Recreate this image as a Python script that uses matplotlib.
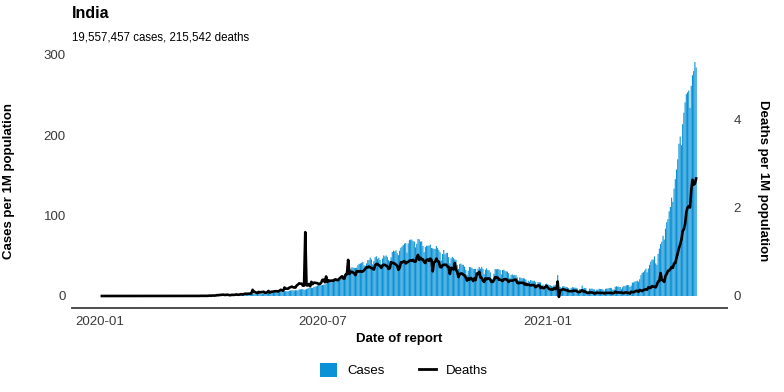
import numpy as np
import pandas as pd
import matplotlib
matplotlib.use("Agg")
import matplotlib.pyplot as plt
import matplotlib.dates as mdates
from matplotlib.patches import Patch
from matplotlib.lines import Line2D

plt.rcParams['font.family'] = ['Liberation Sans', 'DejaVu Sans']

# daily cases per 1M population, by month (first day 2020-01-03)
c_2020_01 = [0, 0, 0, 0, 0, 0, 0, 0, 0, 0, 0, 0, 0, 0, 0, 0, 0, 0, 0, 0, 0, 0, 0, 0, 0, 0, 0, 0, 0]
c_2020_02 = [0, 0, 0, 0, 0, 0, 0, 0, 0, 0, 0, 0, 0, 0, 0, 0, 0, 0, 0, 0, 0, 0, 0, 0, 0, 0, 0, 0, 0]
c_2020_03 = [0, 0, 0, 0.02, 0, 0, 0, 0.01, 0.01, 0.01, 0.01, 0.01, 0.01, 0.02, 0.01, 0.01, 0.02, 0.02, 0.03, 0.05,
             0.06, 0.07, 0.08, 0.07, 0.1, 0.06, 0.11, 0.1, 0.07, 0.16, 0.22]
c_2020_04 = [0.32, 0.35, 0.4, 0.43, 0.36, 0.5, 0.38, 0.56, 0.43, 0.64, 0.8, 0.67, 0.76, 0.86, 0.82, 0.75, 0.87, 0.7,
             1.1, 1.0, 1.05, 1.2, 1.2, 1.3, 1.35, 1.5, 1.25, 1.2, 1.35, 1.3]
c_2020_05 = [1.35, 1.7, 2.0, 2.0, 2.5, 2.8, 2.6, 2.4, 2.5, 2.3, 3.1, 2.7, 2.6, 2.8, 2.7, 2.9, 3.6, 3.7, 3.4, 3.7,
             4.0, 4.2, 4.5, 4.8, 4.9, 4.5, 4.6, 4.9, 5.2, 5.8, 5.8]
c_2020_06 = [6.0, 5.8, 6.1, 6.5, 7.0, 7.1, 7.1, 6.8, 7.2, 7.2, 7.0, 8.1, 8.2, 8.4, 8.5, 7.7, 7.8, 8.7, 9.2, 10.0,
             10.5, 10.3, 10.1, 11.4, 11.5, 12.2, 13.1, 14.0, 13.4, 13.3]
c_2020_07 = [13.7, 13.9, 14.4, 15.8, 17.5, 17.5, 16.7, 16.9, 18.0, 19.5, 19.9, 20.3, 20.7, 20.5, 21.3, 23.4, 25.0,
             25.4, 27.0, 29.0, 27.4, 27.2, 27.9, 33.7, 35.6, 35.4, 35.0, 34.8, 35.5, 38.8, 40.0]
c_2020_08 = [40.5, 41.3, 42.5, 38.1, 37.8, 40.5, 44.6, 44.8, 47.8, 45.6, 39.4, 43.4, 48.2, 49.4, 46.1, 47.6, 44.8,
             39.7, 46.7, 50.5, 49.2, 50.5, 48.4, 44.6, 43.3, 48.2, 54.8, 56.4, 55.5, 56.9, 53.2]
c_2020_09 = [50.9, 56.3, 60.0, 61.8, 63.3, 65.2, 65.9, 54.0, 65.5, 69.6, 70.3, 70.1, 68.3, 67.8, 60.6, 65.0, 71.0,
             70.5, 67.6, 68.1, 62.3, 54.5, 60.9, 62.5, 62.4, 62.8, 64.0, 59.7, 59.3, 58.7]
c_2020_10 = [58.7, 62.1, 59.6, 57.1, 54.5, 44.2, 52.3, 57.3, 51.8, 53.6, 53.8, 48.4, 40.6, 46.7, 48.8, 47.1, 45.4,
             45.0, 38.5, 33.6, 39.7, 40.4, 39.0, 38.8, 36.6, 32.7, 26.3, 31.5, 36.2, 35.8, 35.1]
c_2020_11 = [33.5, 33.7, 33.8, 27.1, 33.8, 36.0, 34.0, 36.3, 33.8, 27.2, 32.6, 34.5, 32.1, 32.2, 29.4, 21.5, 21.3,
             27.7, 33.5, 33.2, 33.6, 33.2, 32.3, 27.0, 32.3, 32.7, 31.4, 30.6, 30.4, 28.3]
c_2020_12 = [22.6, 26.3, 26.8, 25.7, 26.2, 26.0, 23.3, 19.4, 23.1, 22.7, 21.8, 22.3, 21.6, 20.5, 16.3, 19.0, 17.7,
             20.0, 19.1, 18.8, 19.0, 17.1, 14.5, 17.4, 17.1, 16.9, 13.5, 14.3, 12.0, 14.9, 15.4]
c_2021_01 = [14.6, 13.5, 13.4, 12.4, 11.9, 13.5, 13.1, 13.3, 26.0, 6.0, 11.3, 8.8, 11.8, 12.4, 11.5, 11.0, 10.8,
             9.9, 7.3, 9.8, 11.0, 10.6, 10.4, 10.3, 9.5, 6.5, 8.8, 8.6, 13.0, 9.3, 10.1]
c_2021_02 = [9.8, 6.2, 6.5, 9.1, 9.0, 9.3, 8.6, 8.1, 6.4, 8.1, 8.0, 9.0, 8.7, 8.8, 8.1, 6.5, 8.9, 9.3, 9.3, 10.0,
             10.2, 9.7, 7.6, 8.3, 11.5, 12.1, 11.7, 11.4]
c_2021_03 = [11.2, 8.9, 10.9, 12.6, 12.2, 13.3, 13.6, 13.5, 11.2, 13.0, 16.6, 16.9, 18.0, 18.3, 19.1, 17.7, 20.9,
             26.0, 28.8, 29.7, 31.8, 34.0, 29.5, 34.2, 38.8, 42.8, 45.1, 45.4, 49.3, 40.7, 38.8]
c_2021_04 = [52.4, 59.0, 64.6, 67.6, 75.0, 70.3, 83.9, 91.9, 95.6, 105.4, 110.8, 122.4, 117.2, 133.6, 145.5, 157.5,
             170.1, 189.5, 198.4, 187.8, 213.8, 228.1, 241.1, 251.3, 253.4, 255.8, 234.2, 261.6, 274.8, 280.0]
c_2021_05 = [291.3, 284.4]

# daily deaths per 1M population
d_2020_01 = [0, 0, 0, 0, 0, 0, 0, 0, 0, 0, 0, 0, 0, 0, 0, 0, 0, 0, 0, 0, 0, 0, 0, 0, 0, 0, 0, 0, 0]
d_2020_02 = [0, 0, 0, 0, 0, 0, 0, 0, 0, 0, 0, 0, 0, 0, 0, 0, 0, 0, 0, 0, 0, 0, 0, 0, 0, 0, 0, 0, 0]
d_2020_03 = [0, 0, 0, 0, 0, 0, 0, 0, 0, 0, 0, 0.001, 0.001, 0, 0, 0, 0.001, 0, 0.001, 0.001, 0, 0.002, 0.002,
             0.004, 0.003, 0.003, 0.004, 0.004, 0.003, 0.005, 0.01]
d_2020_04 = [0.006, 0.01, 0.009, 0.01, 0.012, 0.02, 0.017, 0.024, 0.024, 0.029, 0.03, 0.025, 0.024, 0.03, 0.027,
             0.02, 0.019, 0.027, 0.025, 0.026, 0.03, 0.035, 0.028, 0.029, 0.039, 0.042, 0.032, 0.045, 0.052, 0.05]
d_2020_05 = [0.05, 0.054, 0.051, 0.06, 0.141, 0.092, 0.091, 0.075, 0.07, 0.093, 0.081, 0.089, 0.088, 0.097, 0.073,
             0.075, 0.087, 0.114, 0.076, 0.094, 0.097, 0.1, 0.108, 0.107, 0.11, 0.102, 0.12, 0.141, 0.128, 0.119, 0.192]
d_2020_06 = [0.167, 0.166, 0.167, 0.189, 0.2, 0.213, 0.2, 0.192, 0.193, 0.24, 0.259, 0.288, 0.28, 0.28, 0.236,
             0.235, 1.45, 0.243, 0.24, 0.272, 0.222, 0.322, 0.27, 0.302, 0.302, 0.294, 0.29, 0.27, 0.275, 0.303]
d_2020_07 = [0.368, 0.37, 0.313, 0.444, 0.319, 0.355, 0.336, 0.349, 0.35, 0.345, 0.375, 0.376, 0.36, 0.363, 0.4,
             0.424, 0.448, 0.4, 0.395, 0.49, 0.494, 0.82, 0.5, 0.544, 0.551, 0.534, 0.511, 0.474, 0.566, 0.559, 0.555]
d_2020_08 = [0.565, 0.55, 0.56, 0.584, 0.62, 0.651, 0.65, 0.67, 0.648, 0.632, 0.629, 0.6, 0.696, 0.727, 0.725,
             0.7, 0.681, 0.639, 0.689, 0.711, 0.706, 0.689, 0.677, 0.616, 0.63, 0.769, 0.749, 0.75, 0.735, 0.71, 0.689]
d_2020_09 = [0.595, 0.638, 0.764, 0.76, 0.782, 0.787, 0.74, 0.763, 0.777, 0.8, 0.81, 0.8, 0.82, 0.78, 0.78, 0.87,
             0.935, 0.82, 0.87, 0.83, 0.83, 0.77, 0.75, 0.82, 0.83, 0.8, 0.85, 0.82, 0.56, 0.76]
d_2020_10 = [0.78, 0.85, 0.79, 0.78, 0.66, 0.65, 0.7, 0.71, 0.71, 0.71, 0.67, 0.66, 0.5, 0.64, 0.62, 0.6, 0.75,
             0.6, 0.55, 0.43, 0.5, 0.51, 0.51, 0.48, 0.47, 0.42, 0.35, 0.4, 0.37, 0.41, 0.39]
d_2020_11 = [0.34, 0.4, 0.36, 0.51, 0.5, 0.55, 0.42, 0.41, 0.35, 0.32, 0.4, 0.38, 0.4, 0.4, 0.37, 0.32, 0.32,
             0.36, 0.43, 0.42, 0.42, 0.37, 0.37, 0.36, 0.34, 0.38, 0.38, 0.38, 0.36, 0.32]
d_2020_12 = [0.35, 0.35, 0.35, 0.36, 0.37, 0.37, 0.3, 0.29, 0.3, 0.3, 0.3, 0.3, 0.26, 0.28, 0.25, 0.26, 0.25,
             0.24, 0.25, 0.25, 0.24, 0.2, 0.22, 0.24, 0.24, 0.18, 0.2, 0.18, 0.18, 0.21, 0.23]
d_2021_01 = [0.19, 0.16, 0.15, 0.15, 0.14, 0.18, 0.16, 0.16, 0.33, -0.02, 0.12, 0.14, 0.15, 0.15, 0.14, 0.13,
             0.13, 0.11, 0.11, 0.11, 0.11, 0.12, 0.12, 0.12, 0.1, 0.09, 0.09, 0.11, 0.13, 0.1, 0.11]
d_2021_02 = [0.09, 0.07, 0.07, 0.08, 0.08, 0.08, 0.07, 0.06, 0.06, 0.08, 0.07, 0.07, 0.07, 0.07, 0.07, 0.06,
             0.07, 0.07, 0.07, 0.07, 0.07, 0.07, 0.06, 0.07, 0.1, 0.08, 0.08, 0.08]
d_2021_03 = [0.077, 0.08, 0.071, 0.064, 0.082, 0.078, 0.072, 0.07, 0.056, 0.096, 0.091, 0.085, 0.101, 0.117,
             0.117, 0.095, 0.136, 0.125, 0.112, 0.136, 0.143, 0.154, 0.144, 0.199, 0.182, 0.186, 0.226, 0.211,
             0.211, 0.196, 0.257]
d_2021_04 = [0.33, 0.34, 0.52, 0.37, 0.35, 0.32, 0.46, 0.5, 0.57, 0.58, 0.61, 0.66, 0.64, 0.74, 0.75, 0.86, 0.97,
             1.09, 1.17, 1.28, 1.47, 1.52, 1.64, 1.9, 2.01, 2.04, 2.01, 2.39, 2.64, 2.53]
d_2021_05 = [2.55, 2.67]

title = "India"
subtitle = "19,557,457 cases, 215,542 deaths"
first_day = "2020-01-03"

cases = (c_2020_01 + c_2020_02 + c_2020_03 + c_2020_04 + c_2020_05 + c_2020_06 + c_2020_07 + c_2020_08
         + c_2020_09 + c_2020_10 + c_2020_11 + c_2020_12 + c_2021_01 + c_2021_02 + c_2021_03 + c_2021_04
         + c_2021_05)
deaths = (d_2020_01 + d_2020_02 + d_2020_03 + d_2020_04 + d_2020_05 + d_2020_06 + d_2020_07 + d_2020_08
          + d_2020_09 + d_2020_10 + d_2020_11 + d_2020_12 + d_2021_01 + d_2021_02 + d_2021_03 + d_2021_04
          + d_2021_05)
dates = pd.date_range(first_day, periods=len(cases), freq="D")

blue = '#0b92d6'
tick_col = '#3a3a3a'

fig = plt.figure(figsize=(7.84, 3.92), dpi=100)
ax = fig.add_axes([72/784, 84/392, 655/784, 260/392])
ax2 = ax.twinx()

bars = ax.bar(dates, cases, width=0.9, color=blue, linewidth=0)
for b in bars:
    b.set_snap(False)
ax2.plot(dates, deaths, color='black', lw=1.9, solid_joinstyle='round')

x0 = mdates.date2num(pd.Timestamp("2020-01-01"))
ax.set_xlim(x0 - 22.4, x0 + 512.2)
ax.set_ylim(-14.94, 308.7)
ax2.set_ylim(-14.94 / 54.8, 308.7 / 54.8)

ax.set_xticks([mdates.date2num(pd.Timestamp(d)) for d in ["2020-01-01", "2020-07-01", "2021-01-01"]])
ax.xaxis.set_major_formatter(mdates.DateFormatter("%Y-%m"))
ax.set_yticks([0, 100, 200, 300])
ax2.set_yticks([0, 2, 4])

for a in (ax, ax2):
    for s in ['top', 'left', 'right', 'bottom']:
        a.spines[s].set_visible(False)
ax.spines['bottom'].set_visible(True)
ax.spines['bottom'].set_color('#4d4d4d')
ax.spines['bottom'].set_linewidth(1.4)

ax.tick_params(axis='x', length=0, pad=6, labelsize=9.5, labelcolor=tick_col)
ax.tick_params(axis='y', length=0, pad=4.5, labelsize=9.5, labelcolor=tick_col)
ax2.tick_params(axis='y', length=0, pad=4.5, labelsize=9.5, labelcolor=tick_col)

ax.set_xlabel("Date of report", fontsize=9.5, fontweight='bold')
ax.xaxis.set_label_coords(0.5, -0.097)
ax.set_ylabel("Cases per 1M population", fontsize=9.5, fontweight='bold')
ax.yaxis.set_label_coords(-0.087, 0.49)
ax2.set_ylabel("Deaths per 1M population", fontsize=9.5, fontweight='bold', rotation=270, va='center')
ax2.yaxis.set_label_coords(1.055, 0.49)

fig.text(72/784, 1 - 13/392, title, fontsize=11.5, fontweight='bold', va='center', ha='left')
fig.text(72/784, 1 - 37/392, subtitle, fontsize=8.3, va='center', ha='left')

handles = [Patch(facecolor=blue, edgecolor='none'), Line2D([0], [0], color='black', lw=2.0)]
fig.legend(handles, ["Cases", "Deaths"], loc='center', bbox_to_anchor=(404/784, 1 - 370/392), ncol=2,
           frameon=False, fontsize=9.5, handlelength=1.3, handleheight=1.3, handletextpad=0.75,
           columnspacing=2.6)

fig.savefig("out.png", dpi=100)
